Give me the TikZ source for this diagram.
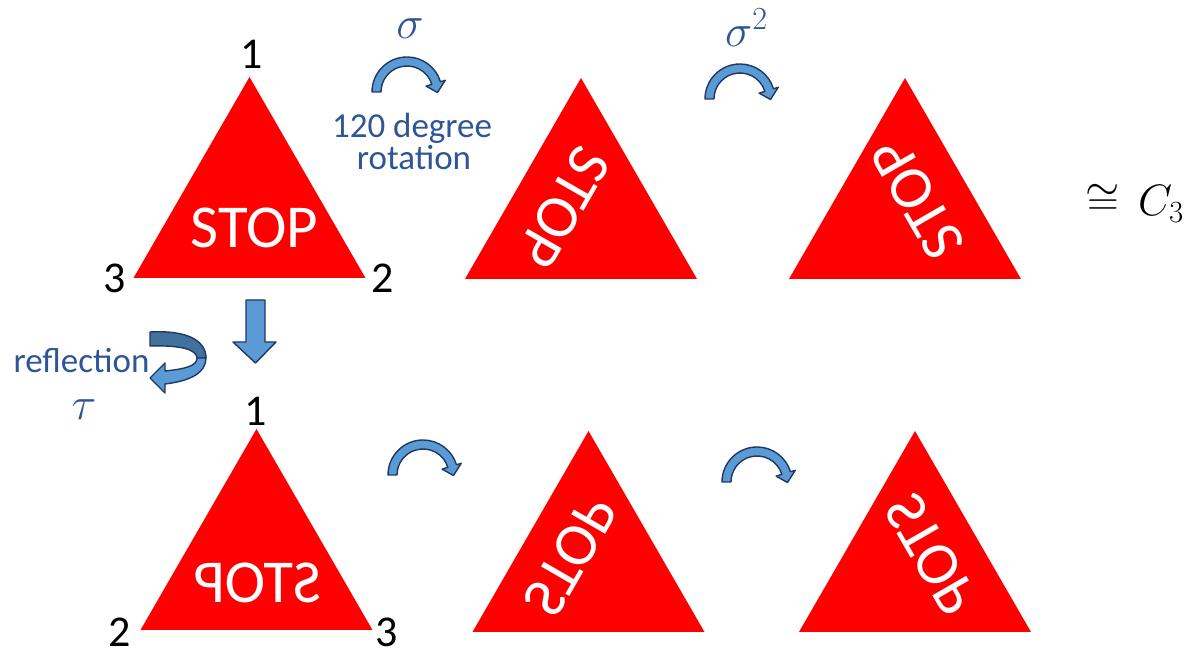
\RequirePackage{fix-cm}
\documentclass[tikz,border=0pt]{standalone}
\usepackage{fontspec}
\setmainfont{Carlito}
\definecolor{signred}{HTML}{FF0000}
\definecolor{txtblue}{HTML}{2F5597}
\definecolor{arrfill}{HTML}{5B9BD5}
\definecolor{arrdark}{HTML}{41719C}
\definecolor{arredge}{HTML}{203864}
\tikzset{
  signshape/.style={fill=signred},
  stoptxt/.style={text=white, font=\fontsize{61}{61}\selectfont, inner sep=0pt, transform shape},
  vlabel/.style={font=\fontsize{44}{44}\selectfont, inner sep=0pt},
  bluetxt/.style={text=txtblue, font=\fontsize{35}{32}\selectfont, inner sep=0pt},
  bluemath/.style={text=txtblue, font=\fontsize{46}{46}\selectfont, inner sep=0pt},
  blackmath/.style={font=\fontsize{44}{44}\selectfont, inner sep=0pt},
  arrowshape/.style={fill=arrfill, draw=arredge, line width=1.4pt, line join=round},
  rotarrow/.pic={
    \path[arrowshape] (-35,0) arc[start angle=180,end angle=17,radius=35]
      -- (38.25,11.69) -- (30.5,-0.5) -- (19.13,5.85) -- (24.86,7.60)
      arc[start angle=17,end angle=180,radius=26] -- cycle;
  },
  stopsign/.pic={
    \fill[signshape] (0,134) -- (-116,-67) -- (116,-67) -- cycle;
  }
}
\begin{document}
\begin{tikzpicture}[x=1pt,y=1pt]
\useasboundingbox (0,0) rectangle (1203,651);
% signs
\coordinate (c1) at (249.5,440);
\coordinate (c2) at (581,439);
\coordinate (c3) at (905,439);
\coordinate (c4) at (256.5,88);
\coordinate (c5) at (588.5,86);
\coordinate (c6) at (915,86);
\pic at (c1) {stopsign};
\pic at (c2) {stopsign};
\pic at (c3) {stopsign};
\pic at (c4) {stopsign};
\pic at (c5) {stopsign};
\pic at (c6) {stopsign};
\begin{scope}[shift={(c1)}]
  \node[stoptxt] (t1) at (5,-17) {STOP};
\end{scope}
\begin{scope}[shift={(c2)},rotate=-120]
  \node[stoptxt] (t2) at (5,-17) {STOP};
\end{scope}
\begin{scope}[shift={(c3)},rotate=-240]
  \node[stoptxt] (t3) at (5,-17) {STOP};
\end{scope}
\begin{scope}[shift={(c4)},xscale=-1]
  \node[stoptxt] (t4) at (-1,-20) {STOP};
\end{scope}
\begin{scope}[shift={(c5)},rotate=-120,xscale=-1]
  \node[stoptxt] (t5) at (-1,-20) {STOP};
\end{scope}
\begin{scope}[shift={(c6)},rotate=-240,xscale=-1]
  \node[stoptxt] (t6) at (-1,-20) {STOP};
\end{scope}
% vertex labels
\node[vlabel] (v11) at (252,597) {1};
\node[vlabel] (v13) at (115,373) {3};
\node[vlabel] (v12) at (383,373) {2};
\node[vlabel] (v41) at (256,240) {1};
\node[vlabel] (v42) at (120,19) {2};
\node[vlabel] (v43) at (387,19) {3};
% rotation arrows
\pic at (407,559) {rotarrow};
\pic at (740,552) {rotarrow};
\pic at (423,176) {rotarrow};
\pic at (757,169) {rotarrow};
% down arrow
\path[arrowshape] (246,351) -- (265,351) -- (265,309) -- (276,309) -- (255.5,288)
  -- (233,309) -- (246,309) -- cycle;
% reflection arrow
\path[arrowshape, fill=arrdark] (150,319) .. controls (186,321) and (206,311) .. (206,293)
  -- (197,293) .. controls (197,301) and (182,306) .. (150,305) -- cycle;
\path[arrowshape] (206,293) .. controls (206,278) and (190,270) .. (165,267)
  -- (165,258) -- (150,273) -- (165,288) -- (165,280)
  .. controls (185,282) and (197,285) .. (197,293) -- cycle;
% texts
\node[bluetxt, anchor=base] (rot1) at (412,513) {120 degree};
\node[bluetxt, anchor=base] (rot2) at (414,481) {rotation};
\node[bluetxt, anchor=base] (refl) at (81.5,278) {reflection};
\node[bluemath] (sig) at (410,622) {$\sigma$};
\node[bluemath] (sig2) at (746.5,623.5) {$\sigma^2$};
\node[bluemath] (tau) at (84,241.5) {$\tau$};
\node[blackmath] (cong) at (1103,451) {$\cong$};
\node[blackmath, anchor=west] (c3grp) at (1138,447) {$C_3$};
\end{tikzpicture}
\end{document}
